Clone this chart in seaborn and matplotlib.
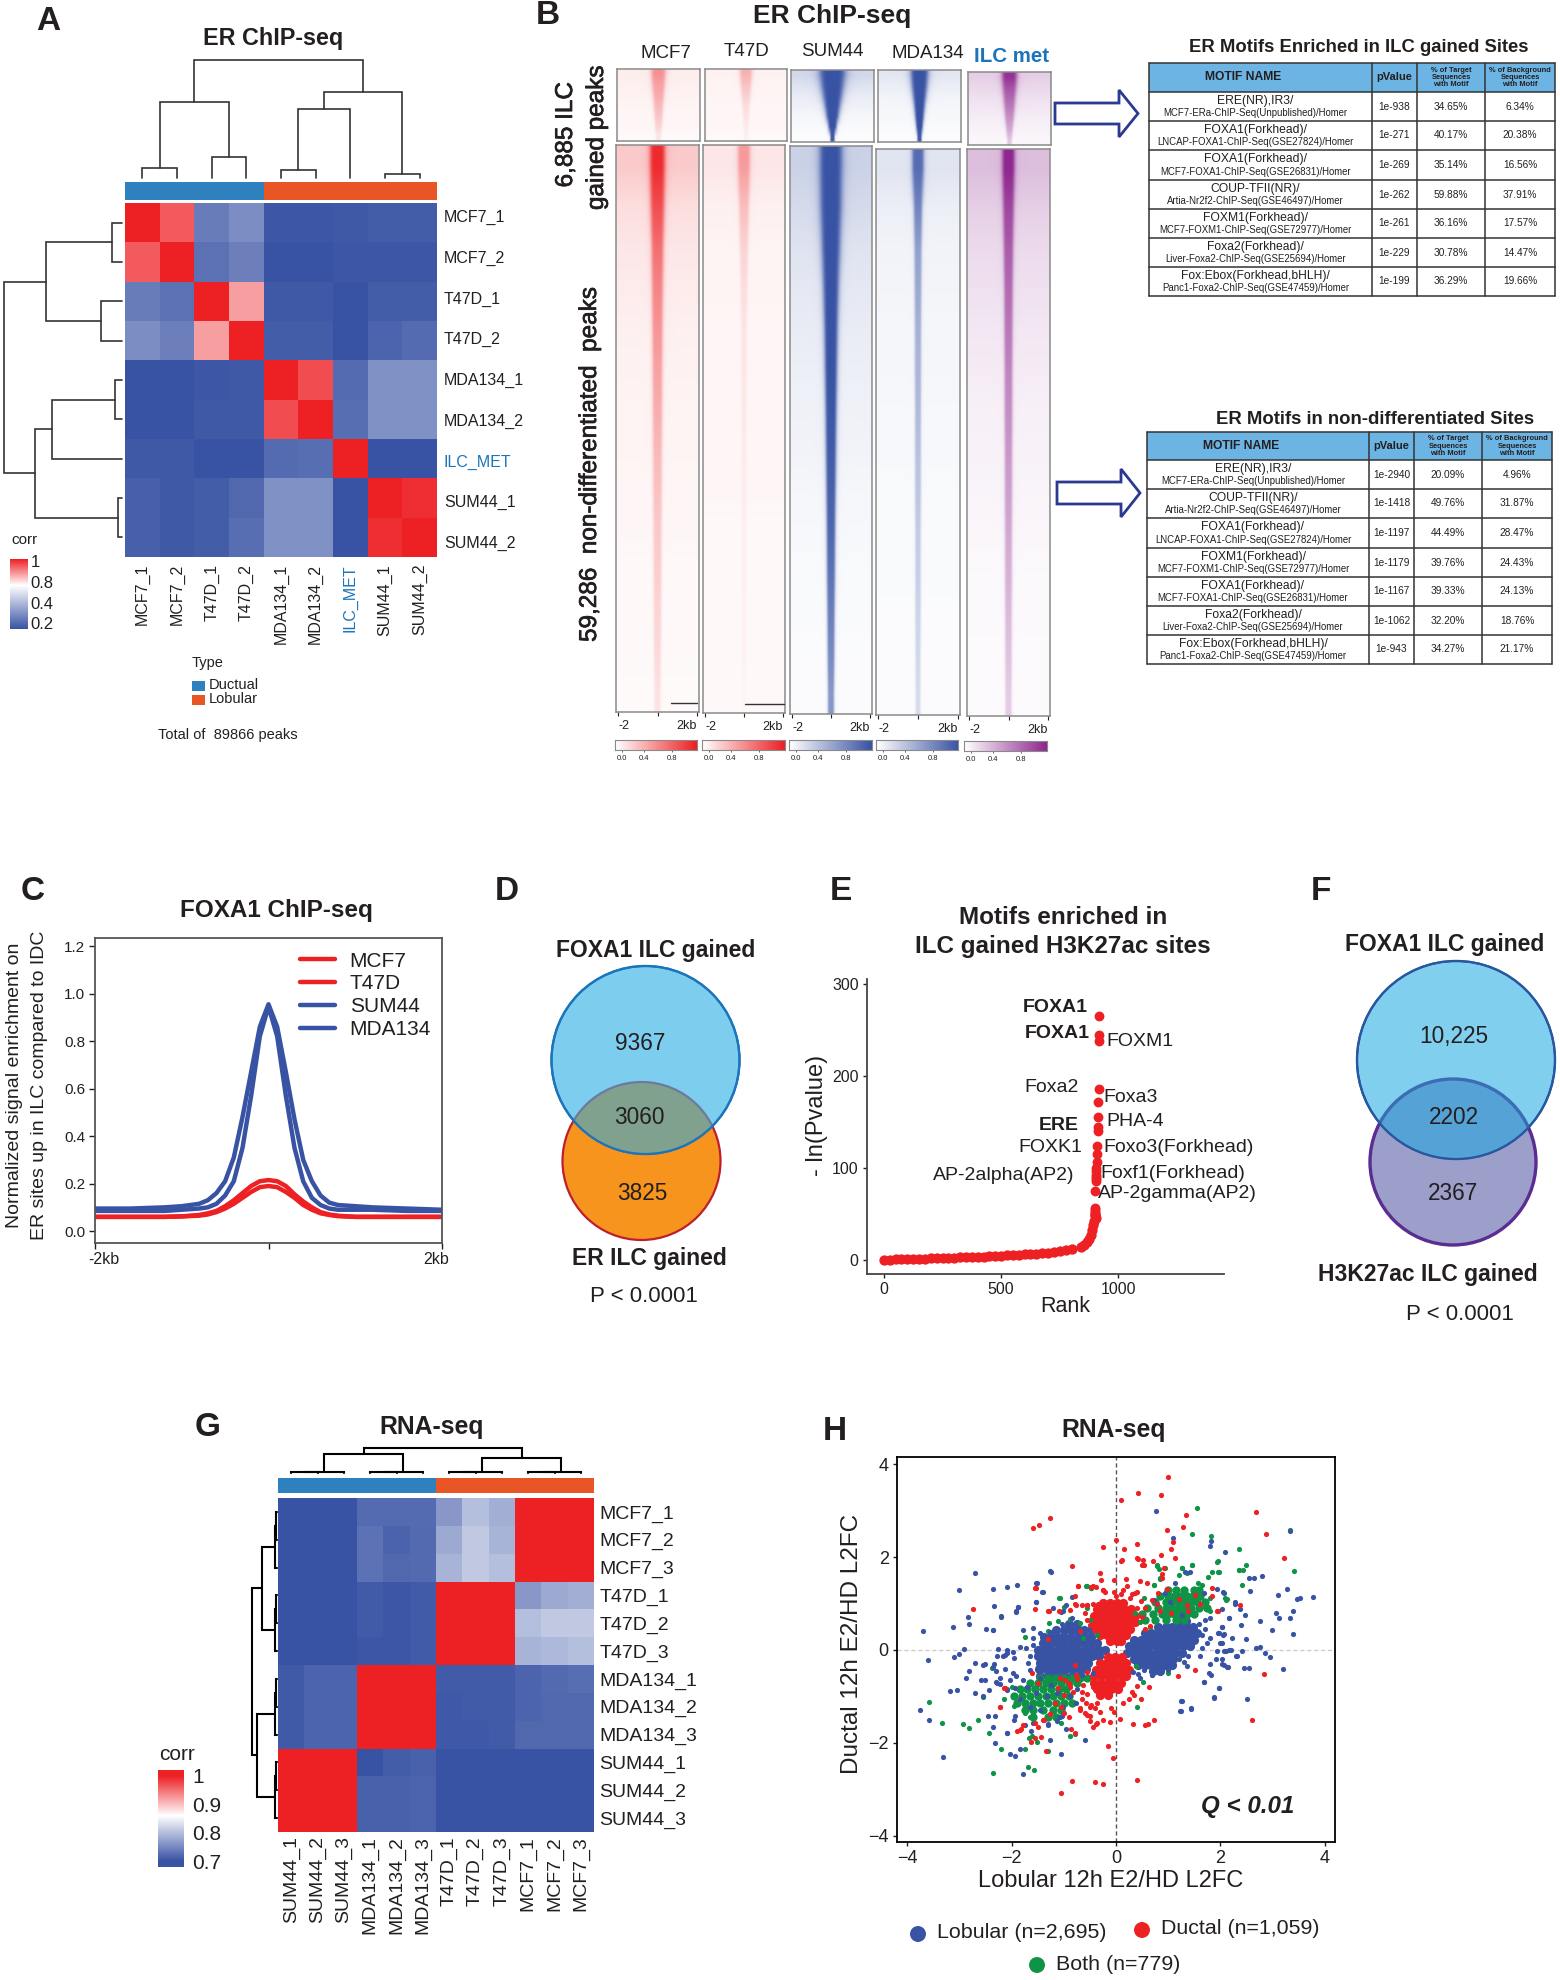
import numpy as np
import pandas as pd
import matplotlib
matplotlib.use('Agg')
import matplotlib.pyplot as plt
import matplotlib.patheffects as pe
from matplotlib.colors import LinearSegmentedColormap, ListedColormap
from matplotlib.patches import Circle, Polygon, Rectangle
import seaborn as sns

sns.set_theme(style='white')
plt.rcParams['font.family'] = ['Liberation Sans', 'DejaVu Sans']
plt.rcParams['text.color'] = '#231f20'
plt.rcParams['axes.labelcolor'] = '#231f20'
plt.rcParams['xtick.color'] = '#231f20'
plt.rcParams['ytick.color'] = '#231f20'

W, H = 1560, 1980
BLUE = '#3953a4'
RED = '#ed2024'
GREEN = '#0f9347'
PURPLE = '#8e278f'
DUCT = '#2e80bf'
LOB = '#e95625'

# panel A
a_samples = ['MCF7_1', 'MCF7_2', 'T47D_1', 'T47D_2', 'MDA134_1', 'MDA134_2', 'ILC_MET', 'SUM44_1', 'SUM44_2']
a_corr = [
    [1.00, 0.92, 0.32, 0.37, 0.21, 0.21, 0.22, 0.23, 0.23],
    [0.92, 1.00, 0.29, 0.33, 0.20, 0.20, 0.21, 0.21, 0.21],
    [0.32, 0.29, 1.00, 0.83, 0.22, 0.22, 0.20, 0.23, 0.23],
    [0.37, 0.33, 0.83, 1.00, 0.23, 0.23, 0.20, 0.25, 0.27],
    [0.20, 0.20, 0.21, 0.22, 1.00, 0.94, 0.27, 0.38, 0.38],
    [0.20, 0.20, 0.22, 0.22, 0.94, 1.00, 0.28, 0.38, 0.38],
    [0.22, 0.22, 0.20, 0.20, 0.27, 0.28, 1.00, 0.20, 0.20],
    [0.24, 0.22, 0.23, 0.26, 0.38, 0.38, 0.20, 1.00, 0.98],
    [0.24, 0.22, 0.23, 0.28, 0.38, 0.38, 0.20, 0.98, 1.00],
]
a_type = [0, 0, 0, 0, 1, 1, 1, 1, 1]
a_top_merges = [(0, 1, 10), (2, 3, 21), (9, 10, 76), (4, 5, 8), (12, 6, 69), (7, 8, 4), (13, 14, 86), (11, 15, 118)]
a_left_merges = [(0, 1, 10), (2, 3, 21), (9, 10, 75), (4, 5, 7), (12, 6, 69), (7, 8, 4), (13, 14, 86), (11, 15, 117)]

# panel B, one value per row of the heatmap blocks, top to bottom
b_names = ['MCF7', 'T47D', 'SUM44', 'MDA134', 'ILC met']
b_gain_width = [
    [.34, .31, .27, .23, .20, .17, .12],
    [.30, .26, .22, .18, .15, .12, .09],
    [.62, .55, .47, .38, .30, .20, .10],
    [.42, .38, .32, .26, .21, .16, .10],
    [.36, .33, .29, .25, .21, .16, .11],
]
b_gain_peak = [
    [.50, .42, .38, .32, .26, .20, .12],
    [.35, .28, .22, .16, .13, .10, .07],
    [1.0, 1.0, 1.0, 1.0, 1.0, 1.0, .95],
    [1.0, 1.0, 1.0, 1.0, 1.0, 1.0, .95],
    [.95, .80, .70, .60, .50, .40, .25],
]
b_gain_flank = [
    [.08, .07, .06, .05, .04, .04, .03],
    [.06, .05, .05, .04, .04, .04, .03],
    [.22, .16, .11, .08, .05, .03, .02],
    [.14, .10, .07, .05, .04, .03, .02],
    [.22, .18, .14, .11, .08, .06, .04],
]
b_rest_width = [
    [.36, .33, .29, .27, .25, .24, .23, .22, .21, .20, .19, .18, .17, .15],
    [.30, .24, .20, .16, .14, .13, .12, .12, .11, .11, .10, .10, .10, .09],
    [.55, .52, .45, .38, .33, .30, .27, .25, .23, .21, .20, .18, .17, .15],
    [.28, .20, .17, .16, .15, .15, .14, .14, .14, .13, .13, .13, .12, .12],
    [.30, .26, .23, .21, .20, .19, .19, .18, .18, .17, .17, .16, .16, .15],
]
b_rest_peak = [
    [.95, .80, .65, .55, .48, .42, .37, .32, .28, .24, .22, .19, .17, .13],
    [.45, .30, .20, .15, .12, .11, .10, .09, .08, .07, .07, .06, .06, .05],
    [1.0, 1.0, 1.0, 1.0, 1.0, 1.0, .98, .95, .92, .88, .82, .75, .68, .60],
    [.85, .70, .55, .50, .45, .42, .40, .36, .33, .30, .28, .25, .23, .20],
    [1.0, .85, .75, .68, .62, .57, .52, .48, .44, .40, .36, .32, .28, .24],
]
b_rest_flank = [
    [.24, .15, .11, .09, .07, .06, .05, .05, .04, .04, .03, .03, .03, .02],
    [.11, .07, .05, .05, .04, .04, .04, .04, .04, .03, .03, .03, .03, .03],
    [.26, .21, .16, .13, .11, .09, .08, .07, .05, .04, .03, .03, .02, .02],
    [.15, .09, .07, .06, .05, .05, .04, .04, .03, .03, .03, .02, .02, .02],
    [.30, .22, .17, .14, .11, .09, .07, .06, .05, .04, .03, .03, .02, .02],
]

# motif tables
t1_names = ['ERE(NR),IR3/', 'FOXA1(Forkhead)/', 'FOXA1(Forkhead)/', 'COUP-TFII(NR)/', 'FOXM1(Forkhead)/', 'Foxa2(Forkhead)/', 'Fox:Ebox(Forkhead,bHLH)/']
t1_src = ['MCF7-ERa-ChIP-Seq(Unpublished)/Homer', 'LNCAP-FOXA1-ChIP-Seq(GSE27824)/Homer', 'MCF7-FOXA1-ChIP-Seq(GSE26831)/Homer',
          'Artia-Nr2f2-ChIP-Seq(GSE46497)/Homer', 'MCF7-FOXM1-ChIP-Seq(GSE72977)/Homer', 'Liver-Foxa2-ChIP-Seq(GSE25694)/Homer',
          'Panc1-Foxa2-ChIP-Seq(GSE47459)/Homer']
t1_p = ['1e-938', '1e-271', '1e-269', '1e-262', '1e-261', '1e-229', '1e-199']
t1_target = ['34.65%', '40.17%', '35.14%', '59.88%', '36.16%', '30.78%', '36.29%']
t1_back = ['6.34%', '20.38%', '16.56%', '37.91%', '17.57%', '14.47%', '19.66%']
t2_names = ['ERE(NR),IR3/', 'COUP-TFII(NR)/', 'FOXA1(Forkhead)/', 'FOXM1(Forkhead)/', 'FOXA1(Forkhead)/', 'Foxa2(Forkhead)/', 'Fox:Ebox(Forkhead,bHLH)/']
t2_src = ['MCF7-ERa-ChIP-Seq(Unpublished)/Homer', 'Artia-Nr2f2-ChIP-Seq(GSE46497)/Homer', 'LNCAP-FOXA1-ChIP-Seq(GSE27824)/Homer',
          'MCF7-FOXM1-ChIP-Seq(GSE72977)/Homer', 'MCF7-FOXA1-ChIP-Seq(GSE26831)/Homer', 'Liver-Foxa2-ChIP-Seq(GSE25694)/Homer',
          'Panc1-Foxa2-ChIP-Seq(GSE47459)/Homer']
t2_p = ['1e-2940', '1e-1418', '1e-1197', '1e-1179', '1e-1167', '1e-1062', '1e-943']
t2_target = ['20.09%', '49.76%', '44.49%', '39.76%', '39.33%', '32.20%', '34.27%']
t2_back = ['4.96%', '31.87%', '28.47%', '24.43%', '24.13%', '18.76%', '21.17%']

# panel C
c_x = [-2, -1.6, -1.2, -1, -.8, -.7, -.6, -.5, -.4, -.3, -.2, -.1, 0, .1, .2, .3, .4, .5, .6, .7, .8, 1, 1.2, 1.6, 2]
c_sum44 = [.095, .095, .10, .105, .115, .13, .16, .21, .31, .48, .67, .86, .955, .86, .67, .47, .30, .21, .15, .12, .11, .105, .10, .095, .09]
c_mda134 = [.085, .085, .085, .09, .095, .10, .115, .15, .21, .35, .57, .82, .945, .82, .57, .35, .21, .14, .11, .095, .09, .09, .09, .085, .085]
c_mcf7 = [.06, .06, .06, .062, .068, .075, .085, .105, .13, .16, .19, .21, .215, .21, .19, .155, .125, .10, .08, .07, .065, .06, .06, .06, .06]
c_t47d = [.06, .06, .06, .062, .065, .07, .08, .095, .115, .14, .165, .185, .19, .185, .165, .14, .11, .09, .075, .068, .063, .06, .06, .06, .06]

# panel E
e_rank = list(range(0, 825, 25)) + [840, 855, 867, 875, 882, 888, 892, 895, 898, 900, 902, 904]
e_value = [.4, .6, .8, 1, 1.2, 1.4, 1.6, 1.8, 2, 2.2, 2.4, 2.6, 2.8, 3, 3.2, 3.4, 3.6, 3.8, 4, 4.2, 5, 5.4, 5.7, 6, 6.4, 6.8, 7.2, 7.7,
           8.3, 9, 9.8, 10.7, 11.8, 14, 16.5, 20, 23, 27, 33, 38, 43, 49, 52, 49, 46]
e_top_rank = [919, 915, 915, 915, 913, 913, 911, 911, 909, 909, 907, 905, 905, 903, 903, 903, 903, 902, 900, 898]
e_top_value = [265, 244, 238, 186, 172, 155, 144, 140, 124, 115, 107, 100, 97, 92, 90, 88, 86, 75, 57, 55]
e_labels = ['FOXA1', 'FOXA1', 'Foxa2', 'ERE', 'FOXK1', 'AP-2alpha(AP2)', 'FOXM1', 'Foxa3', 'PHA-4', 'Foxo3(Forkhead)', 'Foxf1(Forkhead)', 'AP-2gamma(AP2)']

# panel G
g_rows = ['MCF7_1', 'MCF7_2', 'MCF7_3', 'T47D_1', 'T47D_2', 'T47D_3', 'MDA134_1', 'MDA134_2', 'MDA134_3', 'SUM44_1', 'SUM44_2', 'SUM44_3']
g_cols = ['SUM44_1', 'SUM44_2', 'SUM44_3', 'MDA134_1', 'MDA134_2', 'MDA134_3', 'T47D_1', 'T47D_2', 'T47D_3', 'MCF7_1', 'MCF7_2', 'MCF7_3']
g_corr = [
    [.70, .70, .70, .723, .723, .723, .765, .80, .785, 1, 1, 1],
    [.70, .70, .70, .73, .715, .722, .78, .81, .79, 1, 1, 1],
    [.70, .70, .70, .73, .72, .722, .79, .81, .80, 1, 1, 1],
    [.70, .70, .70, .708, .705, .708, 1, 1, 1, .765, .78, .785],
    [.70, .70, .70, .708, .705, .708, 1, 1, 1, .80, .81, .81],
    [.70, .70, .70, .705, .705, .708, 1, 1, 1, .79, .795, .80],
    [.707, .716, .716, 1, 1, 1, .708, .708, .708, .716, .722, .726],
    [.707, .716, .716, 1, 1, 1, .706, .708, .708, .716, .72, .72],
    [.707, .716, .716, 1, 1, 1, .706, .706, .708, .72, .72, .72],
    [1, 1, 1, .70, .71, .714, .70, .70, .70, .70, .70, .70],
    [1, 1, 1, .714, .714, .716, .70, .70, .70, .70, .70, .70],
    [1, 1, 1, .714, .714, .716, .70, .70, .70, .70, .70, .70],
]
g_type = [0, 0, 0, 0, 0, 0, 1, 1, 1, 1, 1, 1]
g_top_merges = [(0, 1, .5), (12, 2, 1), (3, 4, .5), (14, 5, 1), (6, 7, .5), (16, 8, 1), (9, 10, .5), (18, 11, 1),
                (13, 15, 19), (17, 19, 15), (20, 21, 24.5)]
g_left_merges = [(0, 1, 1), (12, 2, 1.7), (3, 4, 1), (14, 5, 1.7), (6, 7, 1), (16, 8, 1.7), (9, 10, 1), (18, 11, 1.7),
                 (13, 15, 15), (17, 19, 20), (20, 21, 24.5)]

# panel H
h_blue = [(.77, 3.0), (1.09, 2.42), (1.82, 2.34), (1.8, 2.25), (2.09, 2.12), (3.33, 2.56), (-1.26, 1.71), (-2.71, 1.67), (-1.51, 1.45),
          (-1.89, 1.41), (-2.09, 1.36), (-2.36, 1.31), (-3.02, 1.3), (-1.41, 1.26), (-2.34, .95), (-1.87, .93), (-1.92, .82), (-1.53, 1.04),
          (-2.2, .73), (-2.83, .72), (-2.82, .55), (-3.13, .49), (-2.49, .45), (-2.35, .44), (-3.7, .4), (-1.06, .81), (-2.92, .02),
          (-3.02, -.08), (-3.1, -.16), (-3.61, -.22), (-2.27, .02), (-2.09, -.06), (-2.12, -.1), (-1.96, -.18), (-2.71, -.28), (-2.82, -.46),
          (-2.87, -.61), (-2.51, -.3), (-2.55, -.33), (-2.34, -.3), (-2.3, -.46), (-2.58, -.65), (-2.51, -.65), (-2.44, -.86), (-2.3, -.7),
          (-2.23, -.74), (-3.18, -.89), (-3.04, -.87), (-2.71, -.93), (-2.55, -.99), (-3.76, -1.29), (-3.59, -1.52), (-2.45, -1.43),
          (-2.33, -1.43), (-2.35, -1.65), (-2.1, -1.78), (-2.32, -2.01), (-3.32, -2.3), (-2.04, -2.24), (-1.94, -2.28), (-1.85, -2.14),
          (-1.78, -2.67), (-1.05, -2.24), (-1.27, -1.94), (-.6, -1.94), (-1.63, -1.74), (-1.75, -1.62), (-1.96, -1.5), (-1.93, -1.42),
          (-1.3, -1.6), (-.96, -1.7), (-1.13, -1.54), (-1.03, -1.42), (3.78, 1.15), (3.52, 1.11), (3.48, 1.09), (3.28, 1.32), (3.1, 1.18),
          (3.39, .85), (3.06, .8), (3.12, .69), (3.34, .69), (2.99, .43), (3.39, .34), (2.77, .63), (2.8, 1.59), (2.56, 1.55), (2.64, 1.55),
          (2.57, 1.28), (2.06, 1.24), (2.28, 1.0), (2.47, .76), (2.4, .53), (2.37, .89), (2.03, .89), (2.16, .69), (2.03, .49), (2.06, .33),
          (2.22, .26), (2.49, .24), (1.96, .37), (1.99, .14), (2.03, .14), (2.16, -.01), (2.08, -.02), (2.41, -.02), (2.31, -.13), (2.68, .04),
          (2.77, .07), (2.86, -.06), (2.96, -.16), (2.04, -.3), (2.14, -.37), (2.46, -.38), (2.55, -.38), (3.21, -.41), (1.91, -.2),
          (1.82, -.54), (1.68, -.7), (1.97, -.82), (1.88, -1.02), (2.51, -1.06), (1.25, -1.1), (1.44, -1.26), (1.24, -1.32),
          (-1.78, .43), (-1.59, .47), (-1.46, .36), (-1.59, .25), (-1.85, .07), (-1.72, .04), (-1.59, .11), (-1.97, -.04), (-2.1, 0), (-2.17, -.14),
          (-2.29, -.14), (-1.65, -.14), (-1.69, -.29), (-1.65, -.43), (-1.97, -.5), (-2.04, -.65), (-1.91, -.57), (-2.23, -.61), (-2.29, -.72),
          (-2.13, -.4), (-2.36, -.36), (-1.78, -.65), (-1.94, -.83), (-2.1, -.86), (-1.21, .9), (-1.01, .83), (-.85, .68), (-1.04, .57), (-1.27, .39),
          (-1.4, .22), (-1.14, .39), (-.95, .97), (-.85, 1.15), (-1.53, 1.04), (-1.88, .93), (-1.91, .83), (-2.2, .72), (-2.36, .43), (-1.53, 1.44),
          (-1.4, 1.26), (-1.24, 1.69), (-1.53, -.93), (-1.33, -1.0), (-1.14, -.93), (-.88, -1.0), (-.76, -1.15), (-1.01, -1.22), (-1.46, -1.29),
          (-1.65, -1.22), (-1.08, -1.44), (-1.3, -1.62), (-1.59, -1.58), (-2.1, -1.8), (-1.45, -.6), (-1.25, -.75), (-.65, -.55), (-.45, -.5),
          (-.75, -.85), (-1.7, -.8), (-1.85, -1.05),
          (1.13, 1.44), (.94, 1.23), (.72, 1.08), (1.04, 1.04), (1.26, .75), (1.42, 1.69), (1.33, 1.69), (1.68, 1.22), (1.94, 1.31), (2.07, 1.22),
          (2.29, 1.04), (1.81, .69), (1.71, .65), (2.16, .68), (2.03, .5), (1.97, .37), (2.07, .34), (1.81, .26), (1.65, .33), (1.62, -.12),
          (1.39, -.12), (1.2, -.19), (1.1, -.17), (1.3, -.27), (1.36, -.34), (1.78, -.5), (1.81, -.3), (2.03, -.2), (1.94, -.03), (2.1, -.03),
          (2.2, 0), (2.32, -.14), (2.07, -.32), (2.13, -.37), (1.0, -.43), (.85, -.33), (.69, -.54), (.53, -.44), (.43, -.52), (.46, -.6), (.33, -.47),
          (1.68, -.7), (1.97, -.82), (1.87, -1.03), (1.26, -1.1), (1.44, -1.27), (1.23, -1.32), (1.6, .55), (1.7, .45), (1.75, .15), (1.65, .05)]
h_blue_rows = {.56: [-.9, -.75], .42: [-1.15, -1.0, -.87, -.74, -.61, -.48], .28: [-1.38, -1.25, -1.12, -.99, -.86, -.73, -.6, -.47],
               .14: [-1.4, -1.27, -1.14, -1.01, -.88, -.75, -.62, -.49, -.36],
               0: [-1.5, -1.37, -1.24, -1.11, -.98, -.85, -.72, -.59, -.46, -.33, -.22],
               -.14: [-1.5, -1.37, -1.24, -1.11, -.98, -.85, -.72, -.59, -.46, -.33],
               -.28: [-1.45, -1.32, -1.19, -1.06, -.93, -.8, -.67, -.54], -.42: [-1.48, -1.35, -1.22, -1.09, -.96, -.83, -.7, -.57],
               -.56: [-1.45, -1.3, -1.15, -1.0, -.85, -.7],
               .62: [1.2, 1.35], .5: [.8, .95, 1.08, 1.21, 1.34, 1.47], .36: [.55, .68, .81, .94, 1.07, 1.2, 1.33, 1.46, 1.55],
               .22: [.35, .48, .61, .74, .87, 1.0, 1.13, 1.26, 1.39, 1.5], .08: [.25, .38, .51, .64, .77, .9, 1.03, 1.16, 1.29, 1.42],
               -.06: [.22, .35, .48, .61, .74, .87, 1.0, 1.13, 1.26], -.2: [.35, .48, .61, .74, .87, 1.0, 1.1], -.33: [.42, .55, .68, .81, .94, 1.07],
               -.46: [.7, .85]}
h_red = [(1.0, 3.72), (.43, 3.39), (.87, 3.34), (.09, 3.23), (-1.27, 2.85), (-1.47, 2.7), (-1.59, 2.62), (1.35, 2.9), (2.68, 2.97),
         (1.28, 2.65), (.97, 2.58), (2.87, 2.5), (0, 2.36), (1.09, 2.33), (.41, 2.29), (-.25, 2.21), (.16, 2.17), (1.06, 2.17), (.86, 2.04),
         (1.13, 1.99), (.41, 1.99), (.52, 1.95), (.1, 1.92), (.7, 1.92), (.49, 1.84), (-.84, 1.81), (3.23, 1.99), (.93, 1.76), (.88, 1.63),
         (-.31, 1.65), (-.29, 1.51), (-.03, 1.5), (.19, 1.52), (.46, 1.49), (.6, 1.45), (-.72, 1.38), (-.48, 1.36), (-.38, 1.36), (-.24, 1.29),
         (-.22, 1.24), (-1.55, 1.33), (-.03, 1.25), (.14, 1.29), (.21, 1.37), (.31, 1.21), (.41, 1.25), (0, 1.17), (.1, 1.21), (1.85, 1.33),
         (-2.74, .89), (-1.55, .89), (-1.29, .84), (-1.1, .84), (-.78, 1.0), (-.65, .97), (-.55, .97), (-.45, .99), (-.31, .99), (2.38, .97),
         (1.96, .83), (-1.3, .23), (2.84, -.51), (1.51, -.43), (1.18, -.57), (-2.15, -.82), (-2.23, -1.22), (2.6, -1.5), (.72, -1.52),
         (.62, -1.6), (.55, -1.62), (.32, -1.6), (.07, -1.48), (-.16, -2.07), (-.05, -2.32), (.41, -2.8), (-.84, -2.82), (-.41, -2.84),
         (-.25, -2.89), (-1.06, -3.09), (-1.34, -2.18), (-1.44, -1.88), (-1.55, -1.9), (-1.63, -1.99), (-1.89, -1.75), (-1.82, -1.7),
         (-.78, -1.79), (-.86, -1.7), (-1.49, -1.66), (-1.4, -1.52), (-.45, -1.66), (-.38, -1.6), (-.5, -1.54), (-.24, -1.52), (-.12, -1.56),
         (-.65, -1.06), (-.58, -1.14), (-.48, -1.18), (-.41, -1.26), (-.31, -1.34), (-.1, -1.26), (-.03, -1.34), (.14, -1.14), (.24, -1.06),
         (.34, -.98), (.48, -1.06), (.31, -.90), (.41, -.78), (.64, -.8), (-.65, -.9), (-.82, -.9), (-1.0, -.98), (-1.06, -1.22), (-1.17, -1.14),
         (-1.27, -1.38), (-1.39, -1.5), (-.9, -.72), (-.75, -.62), (-.55, -.95), (-.7, -1.25), (-.6, -1.35), (-.5, -1.42), (-1.0, -1.35),
         (-.9, -1.45),
         (-1.08, -.61), (-.98, -.65), (-.88, -.79), (-1.11, -.83), (-1.49, -.72), (-1.62, -.5), (-.79, -.32), (-.56, -.47), (-.76, -.54), (-.63, -.75),
         (-.44, -.79), (-.24, -.93), (-.5, -1.22), (-.37, -1.15), (-.56, -1.4), (-.37, -1.58), (-.69, -1.29), (-1.27, -1.37), (-1.56, -1.58),
         (-1.78, -1.62), (-1.85, -1.72), (-2.13, -.83), (-2.23, -1.22), (-.76, .97), (-.56, .97), (-.34, 1.0), (-.69, .4), (-.5, .54), (-.73, 1.37),
         (-.44, 1.37), (-.24, 1.29), (-.79, 1.16), (-1.3, .83), (-.88, .86), (-1.54, 1.33), (-.6, .8), (-.55, .65),
         (1.84, 1.17), (1.52, 1.19), (1.36, .97), (1.62, 1.0), (1.39, .83), (1.94, .83), (.97, 1.32), (.81, 1.23), (.69, 1.08), (.37, 1.23), (.27, 1.12),
         (.56, .9), (.4, .9), (.65, .52), (.56, .46), (.85, .83), (.78, 1.0), (.88, 1.55), (.53, 1.83), (.43, 1.97), (.11, 1.93), (.5, .7), (.48, 1.05),
         (1.05, .8), (1.2, 1.1)]
h_red_rows = {1.02: [-.25, -.12, .01, .14], .88: [-.36, -.23, -.1, .03, .16, .29], .74: [-.42, -.29, -.16, -.03, .1, .23, .36],
              .6: [-.42, -.29, -.16, -.03, .1, .23, .36], .46: [-.38, -.25, -.12, .01, .14, .27], .32: [-.3, -.17, -.04, .09, .2], .2: [-.12, .01, .1],
              -.15: [-.15, -.02, .11], -.29: [-.3, -.17, -.04, .09, .2], -.43: [-.38, -.25, -.12, .01, .14, .24],
              -.57: [-.42, -.29, -.16, -.03, .1, .2], -.71: [-.42, -.29, -.16, -.03, .1], -.85: [-.36, -.23, -.1, .03], -.98: [-.3, -.15]}
h_green = [(1.55, 3.05), (3.33, 2.59), (1.45, 2.51), (1.83, 2.46), (2.36, 2.18), (1.96, 1.91), (2.49, 1.83), (2.35, 1.72), (2.44, 1.73),
           (3.42, 1.7), (2.42, 1.4), (1.85, 1.69), (1.96, 1.69), (1.46, 1.83), (1.27, 1.77), (.79, 1.81), (.82, 1.75), (.84, 1.53), (.72, 1.41),
           (-.57, 1.37), (-.48, 1.33), (-1.09, 1.11), (-1.0, .93), (2.09, 1.13), (2.12, 1.09), (-3.59, -1.12), (-3.33, -1.58), (-2.94, -1.59),
           (-2.81, -1.68), (-2.65, -1.51), (-2.43, -1.79), (-2.55, -1.02), (-2.37, -.38), (-2.2, -2.14), (-2.36, -2.65), (-1.68, -2.53),
           (-1.57, -2.58), (-1.3, -2.18), (-1.75, -2.14), (-1.67, -1.9), (-1.62, -1.86), (-1.51, -1.98), (-.89, -1.86), (-.79, -1.82),
           (.41, -1.22), (.52, -.68), (.69, -.54), (1.0, -.49), (.39, -.34), (-1.06, -1.58),
           (1.26, 1.76), (1.46, 1.83), (1.2, 1.62), (1.36, 1.65), (1.94, 1.9), (.78, 1.83), (.94, 1.76), (.85, 1.55), (1.58, 1.44), (1.77, 1.58),
           (1.97, 1.69), (2.35, 1.72), (2.1, 1.08), (1.8, 1.12), (1.8, .83), (1.71, .93), (.72, 1.4), (.53, 1.12), (.37, .8), (.46, .61), (.65, .5), (1.65, 1.4),
           (-1.08, 1.11), (-.56, 1.37), (-.47, 1.33), (-.56, .9), (-.88, .66), (-1.11, .62), (-1.28, .59), (-.5, .65), (-.69, .58), (-.37, .32),
           (-.63, .25), (-1.75, .29), (-1.3, .4), (-2.1, -.85), (-2.0, -.8), (-2.15, -1.05), (-1.95, -1.2), (-1.75, -1.35), (-1.65, -1.45)]
h_green_rows = {1.3: [1.0, 1.15, 1.3, 1.5, 1.6], 1.17: [.85, 1.0, 1.12, 1.24, 1.36, 1.48, 1.62], 1.04: [.75, .95, 1.07, 1.19, 1.31, 1.43, 1.55, 1.7],
                .91: [.6, .8, .95, 1.07, 1.19, 1.31, 1.43, 1.6, 1.75], .78: [.5, .7, .88, 1.0, 1.12, 1.24, 1.36, 1.5], .65: [.55, .75, .95, 1.15, 1.3],
                -.6: [-1.45, -1.3, -1.15, -1.0, -.85, -.7, -.55], -.72: [-1.65, -1.5, -1.35, -1.2, -1.05, -.9, -.75],
                -.85: [-1.85, -1.7, -1.55, -1.4, -1.25, -1.1, -.95], -1.0: [-1.95, -1.8, -1.65, -1.5, -1.35, -1.2, -1.05, -.9],
                -1.15: [-1.9, -1.75, -1.6, -1.45, -1.3, -1.15, -1.0, -.85], -1.3: [-1.75, -1.6, -1.4, -1.2, -1.05], -1.45: [-1.6, -1.3, -1.15]}


def ax_px(x0, y0, x1, y1):
    return fig.add_axes([x0 / W, 1 - y1 / H, (x1 - x0) / W, (y1 - y0) / H])


def dendro(ax, merges, n, side, lw=1.2, col='#333333'):
    nodes = [(i + .5, 0) for i in range(n)]
    for a, b, h in merges:
        xa, ha = nodes[a]
        xb, hb = nodes[b]
        xs, ys = [xa, xa, xb, xb], [ha, h, h, hb]
        if side == 'top':
            ax.plot(xs, ys, color=col, lw=lw, solid_joinstyle='miter')
        else:
            ax.plot(ys, xs, color=col, lw=lw, solid_joinstyle='miter')
        nodes.append(((xa + xb) / 2, h))
    top = max(m[2] for m in merges)
    if side == 'top':
        ax.set_xlim(0, n)
        ax.set_ylim(0, top)
    else:
        ax.set_ylim(n, 0)
        ax.set_xlim(top, 0)
    ax.axis('off')
    for ln in ax.lines:
        ln.set_clip_on(False)


fig = plt.figure(figsize=(W / 100, H / 100), dpi=100)

# A heatmap
cmap_a = LinearSegmentedColormap.from_list('a', [(0, BLUE), (.625, 'white'), (1, RED)])
ax = ax_px(125, 203, 437, 557)
cax = ax_px(10, 559, 28, 629)
sns.heatmap(pd.DataFrame(a_corr, index=a_samples, columns=a_samples), cmap=cmap_a, vmin=.2, vmax=1, ax=ax, cbar_ax=cax,
            xticklabels=True, yticklabels=True)
ax.yaxis.tick_right()
ax.set_yticks([.33 + 1.036 * i for i in range(9)])
ax.set_yticklabels(a_samples)
ax.tick_params(axis='y', length=0, pad=5, labelsize=11.5, labelrotation=0)
ax.tick_params(axis='x', length=0, pad=5, labelsize=11.5, labelrotation=90)
ax.get_yticklabels()[6].set_color('#1b75bb')
ax.get_xticklabels()[6].set_color('#1b75bb')
cax.set_yticks([.977, .737, .497, .269])
cax.set_yticklabels(['1', '0.8', '0.4', '0.2'], fontsize=12)
cax.tick_params(length=3, direction='in', color='white', pad=2)
sns.heatmap([a_type], cmap=ListedColormap([DUCT, LOB]), cbar=False, ax=ax_px(125, 182, 437, 200), xticklabels=False, yticklabels=False)
dendro(ax_px(125, 60, 437, 178), a_top_merges, 9, 'top')
dendro(ax_px(4, 203, 122, 557), a_left_merges, 9, 'left')

# B blocks
b_cmaps = [LinearSegmentedColormap.from_list('r', ['white', RED]), LinearSegmentedColormap.from_list('r2', ['white', RED]),
           LinearSegmentedColormap.from_list('b', ['white', BLUE]), LinearSegmentedColormap.from_list('b2', ['white', BLUE]),
           LinearSegmentedColormap.from_list('p', ['white', PURPLE])]
b_gain_boxes = [(617, 69, 700, 141), (705, 69, 787, 141), (791, 70, 874, 142), (878, 70, 961, 142), (968, 72, 1051, 145)]
b_rest_boxes = [(616, 145, 699, 712), (703, 145, 785, 713), (790, 146, 872, 714), (876, 149, 960, 715), (967, 149, 1050, 716)]
b_bar_boxes = [(615, 740, 697, 750), (702, 740, 785, 750), (789, 740, 872, 750), (876, 740, 958, 750), (964, 741, 1047, 751)]
kb = np.linspace(-2, 2, 161)


def block(width, peak, flank):
    rows = []
    for w, p, f in zip(width, peak, flank):
        rows.append(f + (p - f) / (1 + (kb / w) ** 6))
    return np.array(rows)


for i in range(5):
    a1 = ax_px(*b_gain_boxes[i])
    a1.imshow(block(b_gain_width[i], b_gain_peak[i], b_gain_flank[i]), cmap=b_cmaps[i], vmin=0, vmax=1, aspect='auto',
              extent=[-2, 2, 0, 1], interpolation='bilinear')
    a1.set_xticks([])
    a1.set_yticks([])
    a2 = ax_px(*b_rest_boxes[i])
    a2.imshow(block(b_rest_width[i], b_rest_peak[i], b_rest_flank[i]), cmap=b_cmaps[i], vmin=0, vmax=1, aspect='auto',
              extent=[-2, 2, 0, 1], interpolation='bilinear')
    a2.set_yticks([])
    a2.set_xticks([-1.9, 0, 1.9])
    a2.set_xticklabels(['-2', '', '2kb'], fontsize=9)
    a2.get_xticklabels()[0].set_ha('left')
    a2.get_xticklabels()[2].set_ha('right')
    a2.tick_params(axis='x', length=3, width=.8, pad=3, bottom=True)
    for a_ in (a1, a2):
        for sp in a_.spines.values():
            sp.set_color('#8a8a8a')
            sp.set_linewidth(1.1)
    a3 = ax_px(*b_bar_boxes[i])
    a3.imshow([np.linspace(0, 1, 100)], cmap=b_cmaps[i], aspect='auto', extent=[0, 1, 0, 1])
    a3.set_yticks([])
    a3.set_xticks([.08, .35, .69])
    a3.set_xticklabels(['0.0', '0.4', '0.8'], fontsize=5.5)
    a3.tick_params(axis='x', length=1.5, width=.5, pad=2, bottom=True)
    for sp in a3.spines.values():
        sp.set_color('#8a8a8a')
        sp.set_linewidth(.8)

# C profile
ax = ax_px(95, 938, 442, 1243)
for vals, name, col in [(c_sum44, 'SUM44', BLUE), (c_mda134, 'MDA134', BLUE), (c_mcf7, 'MCF7', RED), (c_t47d, 'T47D', RED)]:
    sns.lineplot(x=c_x, y=vals, color=col, lw=3.2, ax=ax, label=name)
handles, labels = ax.get_legend_handles_labels()
order = [labels.index(n) for n in ['MCF7', 'T47D', 'SUM44', 'MDA134']]
ax.legend([handles[k] for k in order], [labels[k] for k in order], loc='upper left', bbox_to_anchor=(.59, .955), frameon=False,
          fontsize=15, handlelength=1.7, labelspacing=.18, borderpad=0, borderaxespad=0, handletextpad=.7)
ax.set_xlim(-2, 2)
ax.set_ylim(-.05, 1.234)
ax.set_yticks([0, .2, .4, .6, .8, 1, 1.2])
ax.set_yticklabels(['0.0', '0.2', '0.4', '0.6', '0.8', '1.0', '1.2'], fontsize=11)
ax.set_xticks([-2, 0, 2])
ax.set_xticklabels(['', '', ''])
ax.tick_params(length=4, width=1, bottom=True, left=True, pad=3)
for sp in ax.spines.values():
    sp.set_color('#555555')
    sp.set_linewidth(1.3)

# E ranked motifs
ax = ax_px(867, 979, 1224, 1274)
sns.scatterplot(x=e_rank, y=e_value, color=RED, s=55, linewidth=0, ax=ax)
sns.scatterplot(x=e_top_rank, y=e_top_value, color=RED, s=50, linewidth=0, ax=ax)
ax.set_xlim(-72, 1450)
ax.set_ylim(-15, 305)
ax.set_xticks([0, 500, 1000])
ax.set_yticks([0, 100, 200, 300])
ax.tick_params(length=3, width=1, bottom=True, left=True, labelsize=11.5, pad=3)
sns.despine(ax=ax)
for sp in ax.spines.values():
    sp.set_color('#444444')
    sp.set_linewidth(1.3)


def flat(pairs, rows):
    xs = [p[0] for p in pairs]
    ys = [p[1] for p in pairs]
    cx = [x for y in rows for x in rows[y]]
    cy = [y for y in rows for x in rows[y]]
    return xs, ys, cx, cy


# G heatmap
cmap_g = LinearSegmentedColormap.from_list('g', [(0, BLUE), (.06, BLUE), (.53, 'white'), (.94, RED), (1, RED)])
ax = ax_px(278, 1498, 594, 1832)
cax = ax_px(158, 1770, 184, 1867)
sns.heatmap(pd.DataFrame(g_corr, index=g_rows, columns=g_cols), cmap=cmap_g, vmin=.68, vmax=1.02, ax=ax, cbar_ax=cax,
            xticklabels=True, yticklabels=True)
ax.yaxis.tick_right()
ax.tick_params(axis='y', length=0, pad=4, labelsize=14, labelrotation=0)
ax.tick_params(axis='x', length=0, pad=3, labelsize=14, labelrotation=90)
cax.set_yticks([1, .9, .8, .7])
cax.set_yticklabels(['1', '0.9', '0.8', '0.7'], fontsize=15)
cax.tick_params(length=5, direction='in', color='white', pad=6, width=1)
sns.heatmap([g_type], cmap=ListedColormap([DUCT, LOB]), cbar=False, ax=ax_px(278, 1478, 594, 1493), xticklabels=False, yticklabels=False)
dendro(ax_px(278, 1448, 594, 1472.5), g_top_merges, 12, 'top', lw=1.5, col='black')
dendro(ax_px(252, 1498, 277, 1832), g_left_merges, 12, 'left', lw=1.5, col='black')

# H scatter
ax = ax_px(897, 1457, 1335, 1842)
ax.axvline(0, color='#555555', lw=1, ls=(0, (3, 2)), zorder=0)
ax.axhline(0, color='#cccccc', lw=1, ls=(0, (3, 2)), zorder=0)
bx, by, bcx, bcy = flat(h_blue, h_blue_rows)
gx, gy, gcx, gcy = flat(h_green, h_green_rows)
rx, ry, rcx, rcy = flat(h_red, h_red_rows)
sns.scatterplot(x=bcx, y=bcy, color=BLUE, s=44, linewidth=0, ax=ax)
sns.scatterplot(x=gcx, y=gcy, color=GREEN, s=36, linewidth=0, ax=ax)
sns.scatterplot(x=rcx, y=rcy, color=RED, s=44, linewidth=0, ax=ax)
sns.scatterplot(x=gx, y=gy, color=GREEN, s=14, linewidth=0, ax=ax)
sns.scatterplot(x=bx, y=by, color=BLUE, s=14, linewidth=0, ax=ax)
sns.scatterplot(x=rx, y=ry, color=RED, s=14, linewidth=0, ax=ax)
ax.set_xlim(-4.2, 4.2)
ax.set_ylim(-4.14, 4.16)
ax.set_xticks([-4, -2, 0, 2, 4])
ax.set_yticks([-4, -2, 0, 2, 4])
ax.tick_params(length=3, width=1, bottom=True, left=True, labelsize=13, pad=3)
for sp in ax.spines.values():
    sp.set_color('black')
    sp.set_linewidth(1.3)

# everything placed by pixel goes on one overlay
ov = fig.add_axes([0, 0, 1, 1], zorder=20)
ov.set_xlim(0, W)
ov.set_ylim(H, 0)
ov.axis('off')
ov.patch.set_alpha(0)


def T(x, y, s, size=12, ha='center', va='center', **kw):
    return ov.text(x, y, s, fontsize=size, ha=ha, va=va, **kw)


for lab, x, y in [('A', 48, 21), ('B', 548, 16), ('C', 33, 892), ('D', 507, 892), ('E', 841, 892), ('F', 1321, 892), ('G', 208, 1427), ('H', 835, 1432)]:
    T(x, y, lab, 24, fontweight='bold')

# A text
T(273, 39, 'ER ChIP-seq', 16.8, fontweight='bold')
T(11, 540, 'corr', 11, ha='left')
T(192, 663, 'Type', 10.5, ha='left')
ov.add_patch(Rectangle((192, 681), 13, 10, fc=DUCT, ec='none'))
ov.add_patch(Rectangle((192, 695), 13, 10, fc=LOB, ec='none'))
T(209, 685, 'Ductual', 10.5, ha='left')
T(209, 699, 'Lobular', 10.5, ha='left')
T(158, 735, 'Total of  89866 peaks', 10.5, ha='left')

# B text
T(832, 16, 'ER ChIP-seq', 19, fontweight='bold')
for name, x, y in zip(b_names[:4], [666, 746, 832, 928], [54, 52, 52, 53]):
    T(x, y, name, 13.5)
T(1012, 56, b_names[4], 14.8, fontweight='bold', color='#1b75bb')
thick = [pe.withStroke(linewidth=.5, foreground='#231f20')]
T(566, 135, '6,885 ILC', 17.5, rotation=90, path_effects=thick)
T(597, 138, 'gained peaks', 17.5, rotation=90, path_effects=thick)
T(590, 465, '59,286  non-differentiated  peaks', 17.5, rotation=90, path_effects=thick)
ov.plot([671, 697], [703, 703], color='#333333', lw=1)
ov.plot([745, 784], [704, 704], color='#333333', lw=1)


def arrow(x0, x1, xh, y0, y1, yh0, yh1):
    ym = (yh0 + yh1) / 2
    ov.add_patch(Polygon([(x0, y0), (xh, y0), (xh, yh0), (x1, ym), (xh, yh1), (xh, y1), (x0, y1)], closed=True, fc='white', ec='#2b3990', lw=2))


arrow(1055, 1138, 1119, 103, 124, 90, 137)
arrow(1057, 1140, 1121, 482, 504, 469, 517)


def table(cols, rows_y, title, tx, ty, names, src, pv, target, back):
    x0, x1, x2, x3, x4 = cols
    ov.add_patch(Rectangle((x0, rows_y[0]), x4 - x0, rows_y[1] - rows_y[0], fc='#6cb4e4', ec='none'))
    for y in rows_y:
        ov.plot([x0, x4], [y, y], color='#333333', lw=1.1)
    for x in cols:
        ov.plot([x, x], [rows_y[0], rows_y[-1]], color='#333333', lw=1.1)
    T(tx, ty, title, 13.3, fontweight='bold')
    hc = (rows_y[0] + rows_y[1]) / 2
    T((x0 + x1) / 2 - 17, hc, 'MOTIF NAME', 8.7, fontweight='bold')
    T((x1 + x2) / 2, hc, 'pValue', 8, fontweight='bold')
    T((x2 + x3) / 2, hc, '% of Target\nSequences\nwith Motif', 5.4, fontweight='bold', linespacing=1.1)
    T((x3 + x4) / 2, hc, '% of Background\nSequences\nwith Motif', 5.4, fontweight='bold', linespacing=1.1)
    for i in range(7):
        top, bot = rows_y[i + 1], rows_y[i + 2]
        h = bot - top
        mid = (x0 + x1) / 2 - 5
        T(mid, top + .3 * h, names[i], 8.7)
        T(mid, top + .74 * h, src[i], 6.9)
        T((x1 + x2) / 2, top + .5 * h, pv[i], 7.3)
        T((x2 + x3) / 2, top + .5 * h, target[i], 7.3)
        T((x3 + x4) / 2, top + .5 * h, back[i], 7.3)


table([1149, 1372, 1417, 1485, 1555], [63, 92, 121, 150, 180, 209, 238, 267, 296], 'ER Motifs Enriched in ILC gained Sites', 1359, 48,
      t1_names, t1_src, t1_p, t1_target, t1_back)
table([1147, 1369, 1414, 1482, 1552], [432, 460, 489, 518, 548, 577, 606, 635, 664], 'ER Motifs in non-differentiated Sites', 1375, 420,
      t2_names, t2_src, t2_p, t2_target, t2_back)

# C text
T(276, 910, 'FOXA1 ChIP-seq', 17.5, fontweight='bold')
T(15, 1085, 'Normalized signal enrichment on', 14, rotation=90)
T(40, 1085, 'ER sites up in ILC compared to IDC', 14, rotation=90)
T(104, 1259, '-2kb', 11.5)
T(436, 1259, '2kb', 11.5)


# venn diagrams
def venn(c1, r1, fc1, ec1, c2, r2, fc2, ec2, over, ec_over, lw2):
    low = Circle(c2, r2, fc=fc2, ec=ec2, lw=lw2)
    ov.add_patch(low)
    up = Circle(c1, r1, fc=fc1, ec=ec1, lw=1.6)
    ov.add_patch(up)
    mid = Circle(c2, r2, fc=over, ec=ec_over, lw=lw2)
    ov.add_patch(mid)
    mid.set_clip_path(up)
    ov.add_patch(Circle(c1, r1, fc='none', ec=ec1, lw=1.6))


venn((645.5, 1060), 94, '#7dcdef', '#1a75bb', (641.5, 1161), 79, '#f7941d', '#be1e2d', '#7fa18e', '#6d7aa0', 1.6)
T(656, 950, 'FOXA1 ILC gained', 16.5, fontweight='bold')
T(640, 1044, '9367', 16.3)
T(639, 1118, '3060', 16.3)
T(642, 1194, '3825', 16.3)
T(649, 1258, 'ER ILC gained', 16.5, fontweight='bold')
T(644, 1297, 'P < 0.0001', 16)

venn((1456, 1060), 99, '#81cfef', '#27579f', (1453, 1162), 83, '#9b9fc9', '#5b2c91', '#55a3d6', '#3b6cb4', 2.4)
T(1445, 944, 'FOXA1 ILC gained', 16.5, fontweight='bold')
T(1454, 1037, '10,225', 16.3)
T(1454, 1118, '2202', 16.3)
T(1453, 1194, '2367', 16.3)
T(1428, 1275, 'H3K27ac ILC gained', 16.5, fontweight='bold')
T(1460, 1314, 'P < 0.0001', 16)

# E text
T(1063, 917, 'Motifs enriched in', 17.5, fontweight='bold')
T(1063, 946, 'ILC gained H3K27ac sites', 17.5, fontweight='bold')
T(817, 1115, '- ln(Pvalue)', 17, rotation=90)
T(1065, 1307, 'Rank', 15.5)
e_pos = [(1088, 1008, 'right', 'bold'), (1090, 1033, 'right', 'bold'), (1079, 1088, 'right', 'normal'), (1079, 1126, 'right', 'bold'),
         (1082, 1147, 'right', 'normal'), (1074, 1176, 'right', 'normal'), (1106, 1041, 'left', 'normal'), (1103, 1097, 'left', 'normal'),
         (1106, 1121, 'left', 'normal'), (1103, 1148, 'left', 'normal'), (1100, 1173, 'left', 'normal'), (1098, 1194, 'left', 'normal')]
for lab, (x, y, ha, fw) in zip(e_labels, e_pos):
    T(x, y, lab, 14, ha=ha, fontweight=fw)

# G text
T(432, 1427, 'RNA-seq', 17.8, fontweight='bold')
T(159, 1754, 'corr', 15, ha='left')

# H text
T(1114, 1430, 'RNA-seq', 17.8, fontweight='bold')
T(1111, 1881, 'Lobular 12h E2/HD L2FC', 17)
T(852, 1644, 'Ductal 12h E2/HD L2FC', 17.5, rotation=90)
T(1248, 1807, 'Q < 0.01', 17.4, fontweight='bold', style='italic')
ov.scatter([918, 1142, 1037], [1934, 1930, 1965], s=132, c=[BLUE, RED, GREEN], linewidths=0)
T(937, 1933, 'Lobular (n=2,695)', 15.4, ha='left')
T(1161, 1929, 'Ductal (n=1,059)', 15.4, ha='left')
T(1056, 1965, 'Both (n=779)', 15.4, ha='left')

fig.savefig('out.png', dpi=100)
